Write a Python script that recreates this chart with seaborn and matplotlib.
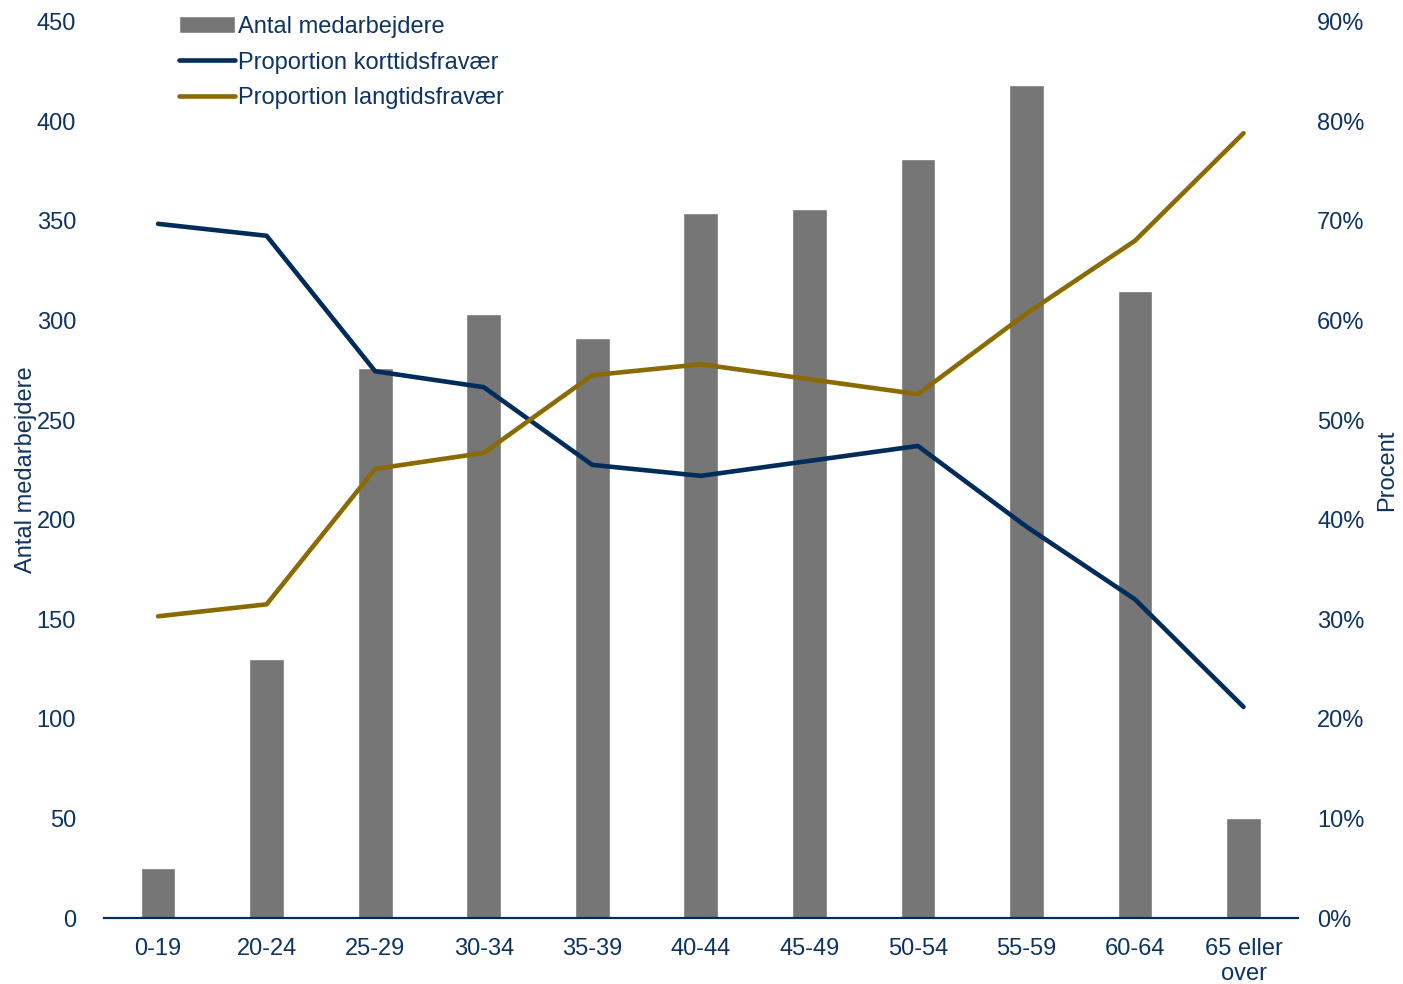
import seaborn as sns
import matplotlib.pyplot as plt
import pandas as pd
from matplotlib.ticker import PercentFormatter

# data
age_groups = ['0-19', '20-24', '25-29', '30-34', '35-39', '40-44',
              '45-49', '50-54', '55-59', '60-64', '65 eller\nover']
employees = [25, 130, 276, 303, 291, 354, 356, 381, 418, 315, 50]
short_absence = [69.7, 68.5, 54.9, 53.3, 45.5, 44.4, 45.9, 47.4, 39.3, 32.0, 21.2]
long_absence = [30.3, 31.5, 45.1, 46.7, 54.5, 55.6, 54.1, 52.6, 60.7, 68.0, 78.8]

NAVY = '#002C5A'
GOLD = '#8B6A00'
GREY = '#767676'
TEXT = '#0E3461'
FS = 17

sns.set_style('white')
plt.rcParams['font.family'] = ['Liberation Sans', 'DejaVu Sans']
plt.rcParams['font.size'] = FS

df = pd.DataFrame({'age': age_groups, 'n': employees,
                   'short': short_absence, 'long': long_absence})

fig = plt.figure(figsize=(14.03, 9.84), dpi=100)
ax = fig.add_axes([0.074, 0.067, 0.851, 0.911])

sns.barplot(data=df, x='age', y='n', color=GREY, width=0.32,
            saturation=1, ax=ax, label='Antal medarbejdere')
ax.set_ylim(0, 450)
ax.set_yticks(range(0, 451, 50))
ax.set_ylabel('Antal medarbejdere', color=TEXT, fontsize=FS, labelpad=0)
ax.set_xlabel('')
ax.set_xlim(-0.5, len(age_groups) - 0.5)

ax2 = ax.twinx()
sns.lineplot(x=range(len(age_groups)), y=df['short'], color=NAVY, lw=3.3,
             ax=ax2, label='Proportion korttidsfravær')
sns.lineplot(x=range(len(age_groups)), y=df['long'], color=GOLD, lw=3.3,
             ax=ax2, label='Proportion langtidsfravær')
ax2.set_ylim(0, 90)
ax2.set_yticks(range(0, 91, 10))
ax2.yaxis.set_major_formatter(PercentFormatter(decimals=0))
ax2.set_ylabel('Procent', color=TEXT, fontsize=FS, labelpad=8)

for a in (ax, ax2):
    for s in ['top', 'left', 'right']:
        a.spines[s].set_visible(False)
    a.spines['bottom'].set_color(NAVY)
    a.spines['bottom'].set_linewidth(1.5)
    a.tick_params(colors=TEXT, labelsize=FS, length=0)
ax.tick_params(axis='x', pad=14)
ax.tick_params(axis='y', pad=20)
ax2.tick_params(axis='y', pad=14)

h1, l1 = ax.get_legend_handles_labels()
h2, l2 = ax2.get_legend_handles_labels()
if ax.get_legend():
    ax.get_legend().remove()
leg = ax2.legend(h1 + h2, l1 + l2, loc='upper left', bbox_to_anchor=(0.045, 1.03),
                 frameon=False, fontsize=FS, handlelength=2.4, handletextpad=0.1,
                 labelspacing=0.58)
for t in leg.get_texts():
    t.set_color(TEXT)

fig.savefig('out.png', dpi=100)
